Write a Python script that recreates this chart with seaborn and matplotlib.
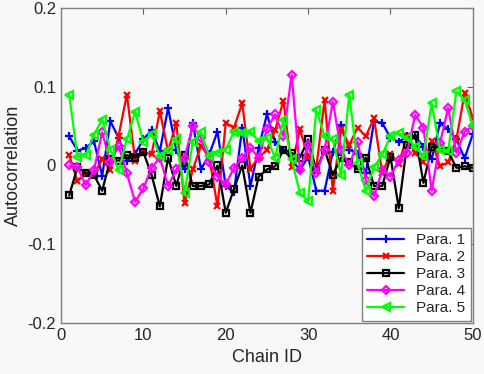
import numpy as np
import pandas as pd
import matplotlib
matplotlib.use("Agg")
import matplotlib.pyplot as plt
import seaborn as sns

# chain ids
chain_id = list(range(1, 51))

# autocorrelation per parameter
para1 = [0.037, 0.019, 0.022, 0.031, -0.013, 0.056, 0.035, 0.006, 0.015, 0.033,
         0.045, 0.018, 0.073, 0.020, -0.005, 0.054, -0.005, 0.014, 0.043, -0.026,
         -0.034, 0.048, -0.026, 0.022, 0.065, 0.030, 0.020, 0.008, -0.006, 0.011,
         -0.032, -0.032, 0.017, 0.052, 0.020, 0.015, -0.010, 0.056, 0.054, 0.035,
         0.030, 0.037, 0.037, 0.024, 0.008, 0.054, 0.046, 0.033, 0.009, 0.040]
para2 = [0.013, -0.020, -0.010, -0.012, 0.008, -0.006, 0.038, 0.090, 0.006, 0.017,
         0.014, 0.069, 0.018, 0.054, -0.048, -0.005, 0.025, 0.010, -0.052, 0.054,
         0.048, 0.079, -0.004, 0.010, 0.020, 0.045, 0.082, -0.002, 0.046, 0.011,
         -0.002, 0.083, -0.032, 0.046, 0.026, 0.048, 0.037, 0.060, -0.010, 0.015,
         0.002, 0.037, 0.016, 0.004, 0.031, -0.001, 0.004, 0.033, 0.092, 0.060]
para3 = [-0.038, -0.002, -0.010, -0.012, -0.032, 0.008, 0.006, 0.013, 0.010, 0.017,
         -0.012, -0.052, 0.010, -0.026, 0.013, -0.026, -0.026, -0.024, 0.000, -0.060,
         -0.030, 0.000, -0.060, -0.014, -0.005, -0.001, 0.020, 0.016, 0.010, 0.033,
         -0.006, 0.020, -0.012, 0.010, 0.005, -0.005, 0.010, -0.026, -0.026, 0.011,
         -0.054, 0.026, 0.039, -0.022, 0.024, 0.022, 0.018, -0.003, -0.001, -0.003]
para4 = [0.000, -0.002, -0.025, -0.006, 0.042, 0.004, 0.025, -0.010, -0.046, -0.029,
         -0.003, 0.010, -0.026, -0.005, 0.010, 0.050, 0.035, 0.004, -0.014, -0.024,
         -0.003, 0.010, 0.022, 0.010, 0.046, 0.065, 0.037, 0.115, -0.006, 0.026,
         -0.010, 0.020, 0.081, 0.020, 0.000, 0.030, -0.018, -0.039, -0.006, -0.014,
         0.007, 0.016, 0.064, 0.048, -0.032, 0.028, 0.073, 0.016, 0.043, 0.050]
para5 = [0.090, 0.011, 0.013, 0.039, 0.058, 0.020, -0.006, 0.033, 0.068, 0.030,
         0.040, 0.012, 0.020, 0.033, -0.035, 0.030, 0.042, 0.012, 0.016, 0.020,
         0.043, 0.041, 0.043, 0.031, 0.035, 0.010, 0.058, 0.008, -0.035, -0.045,
         0.071, 0.037, 0.033, -0.012, 0.090, 0.003, -0.032, -0.002, 0.014, 0.037,
         0.041, 0.035, 0.024, 0.012, 0.079, 0.020, 0.018, 0.094, 0.083, 0.050]

labels = ["Para. 1", "Para. 2", "Para. 3", "Para. 4", "Para. 5"]
series = [para1, para2, para3, para4, para5]

df = pd.DataFrame({"chain": chain_id * 5,
                   "acf": sum(series, []),
                   "para": np.repeat(labels, len(chain_id))})

# matlab-ish look
colors = ["#0000ff", "#ff0000", "#000000", "#ff00ff", "#00ff00"]
markers = ["+", "x", "s", "D", "<"]
msizes = [5.5, 5, 4, 4, 5.5]

sns.set_style("white")
plt.rcParams["font.family"] = ["Liberation Sans", "DejaVu Sans"]

fig = plt.figure(figsize=(4.84, 3.74), dpi=100)
fig.patch.set_facecolor("#f8f8f8")
ax = fig.add_axes([0.126, 0.136, 0.851, 0.843])
ax.set_facecolor("#f8f8f8")

for lab, col, mk, ms in zip(labels, colors, markers, msizes):
    sub = df[df["para"] == lab]
    sns.lineplot(data=sub, x="chain", y="acf", ax=ax, color=col, marker=mk,
                 markersize=ms, markerfacecolor="none", markeredgecolor=col,
                 markeredgewidth=1.6, linewidth=1.6, label=lab)

ax.set_xlim(0, 50)
ax.set_ylim(-0.2, 0.2)
ax.set_xticks([0, 10, 20, 30, 40, 50])
ax.set_yticks([-0.2, -0.1, 0, 0.1, 0.2])
ax.set_yticklabels(["-0.2", "-0.1", "0", "0.1", "0.2"])
ax.tick_params(direction="in", length=4, color="#606060", labelsize=12,
               labelcolor="#262626", top=True, right=True)
for s in ax.spines.values():
    s.set_color("#808080")
    s.set_linewidth(1)
ax.set_xlabel("Chain ID", fontsize=13, color="#262626")
ax.set_ylabel("Autocorrelation", fontsize=13, color="#262626")

leg = ax.legend(loc="lower right", fontsize=11, frameon=True, fancybox=False,
                handlelength=2.4, borderpad=0.35, labelspacing=0.2,
                borderaxespad=0.15)
leg.get_frame().set_edgecolor("#808080")
leg.get_frame().set_facecolor("white")
leg.get_frame().set_alpha(1)

fig.savefig("out.png", dpi=100, facecolor=fig.get_facecolor())
